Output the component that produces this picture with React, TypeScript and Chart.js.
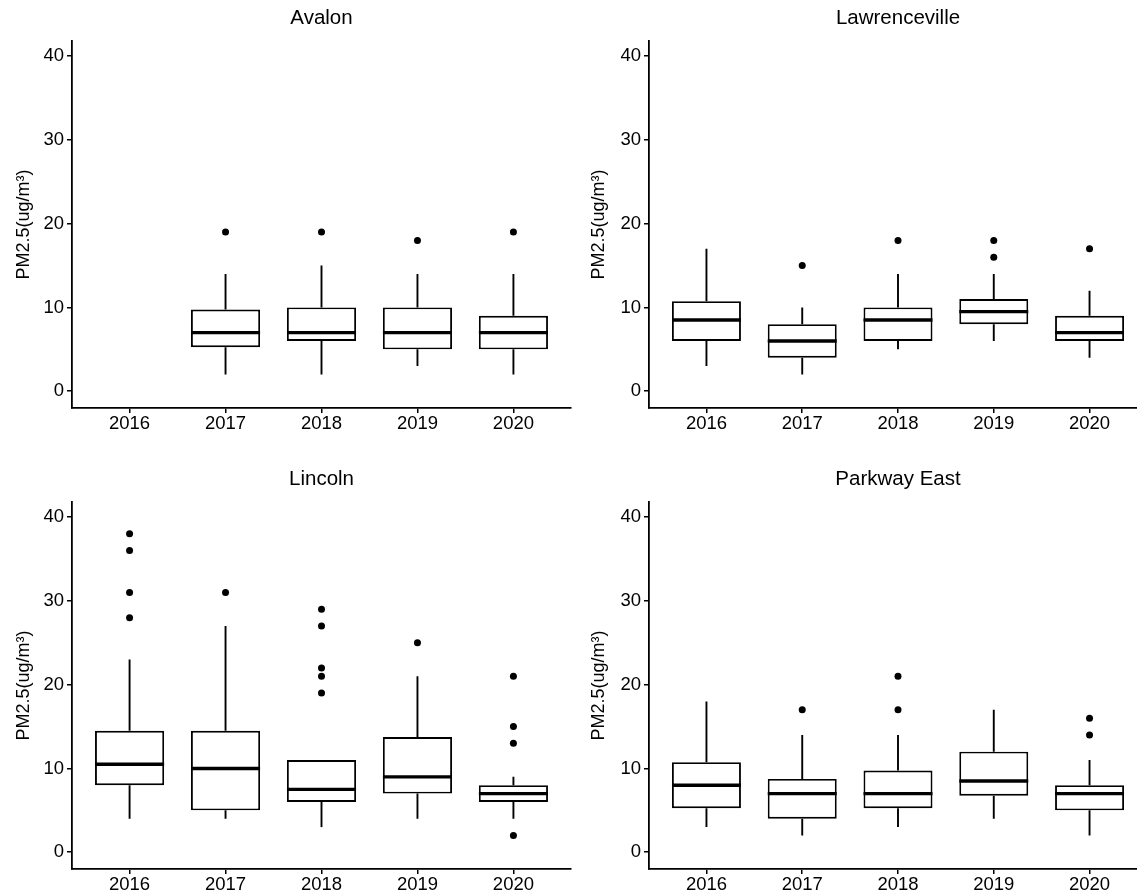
import React, { useEffect, useRef } from "react";
import { Chart, registerables } from "chart.js";
Chart.register(...registerables);

const YEARS = ["2016", "2017", "2018", "2019", "2020"];
const STATIONS = ["Avalon", "Lawrenceville", "Lincoln", "Parkway East"];
const Y_TICKS = [0, 10, 20, 30, 40];
const Y_TITLE = "PM2.5(ug/m³)";

// per station (rows) and year (columns)
const LOWER = [
  [null, 2, 2, 3, 2],
  [3, 2, 5, 6, 4],
  [4, 4, 3, 4, 4],
  [3, 2, 3, 4, 2],
];
const Q1 = [
  [null, 5.25, 6, 5, 5],
  [6, 4, 6, 8, 6],
  [8, 5, 6, 7, 6],
  [5.25, 4, 5.25, 6.75, 5],
];
const MEDIAN = [
  [null, 7, 7, 7, 7],
  [8.5, 6, 8.5, 9.5, 7],
  [10.5, 10, 7.5, 9, 7],
  [8, 7, 7, 8.5, 7],
];
const Q3 = [
  [null, 9.75, 10, 10, 9],
  [10.75, 8, 10, 11, 9],
  [14.5, 14.5, 11, 13.75, 8],
  [10.75, 8.75, 9.75, 12, 8],
];
const UPPER = [
  [null, 14, 15, 14, 14],
  [17, 10, 14, 14, 12],
  [23, 27, 11, 21, 9],
  [18, 14, 14, 17, 11],
];
const OUTLIERS = [
  [[], [19], [19], [18], [19]],
  [[], [15], [18], [18, 16], [17]],
  [[38, 36, 31, 28], [31], [29, 27, 22, 21, 19], [25], [21, 15, 13, 2]],
  [[], [17], [21, 17], [], [16, 14]],
];

const FONT = "'Liberation Sans', Arial, Helvetica, sans-serif";

const PANELS = [
  { left: 0, top: 0, width: 575, yWidth: 72, titlePad: 13 },
  { left: 575, top: 0, width: 576, yWidth: 74, titlePad: 13 },
  { left: 0, top: 461, width: 575, yWidth: 72, titlePad: 13 },
  { left: 575, top: 461, width: 576, yWidth: 74, titlePad: 13 },
];
const PANEL_H = 440;

const boxDecor = {
  id: "boxDecor",
  afterDatasetsDraw(chart: any, _args: any, opts: any) {
    const s = opts.station;
    const meta = chart.getDatasetMeta(0);
    const xs = chart.scales.x;
    const ys = chart.scales.y;
    const ctx = chart.ctx;
    ctx.save();
    ctx.strokeStyle = "#000";
    ctx.lineCap = "butt";
    meta.data.forEach((bar: any, j: number) => {
      const raw = chart.data.datasets[0].data[j];
      const k = raw.x - 1;
      const cx = xs.getPixelForValue(raw.x);
      const half = bar.width / 2;
      ctx.lineWidth = 1.9;
      ctx.beginPath();
      ctx.moveTo(cx, ys.getPixelForValue(Q3[s][k]));
      ctx.lineTo(cx, ys.getPixelForValue(UPPER[s][k]));
      ctx.moveTo(cx, ys.getPixelForValue(Q1[s][k]));
      ctx.lineTo(cx, ys.getPixelForValue(LOWER[s][k]));
      ctx.stroke();
      ctx.lineWidth = 3.4;
      ctx.beginPath();
      const my = ys.getPixelForValue(MEDIAN[s][k]);
      ctx.moveTo(cx - half, my);
      ctx.lineTo(cx + half, my);
      ctx.stroke();
    });
    ctx.restore();
  },
};

function Panel({ index }: { index: number }) {
  const ref = useRef<HTMLCanvasElement | null>(null);
  const p = PANELS[index];
  useEffect(() => {
    const boxes: any[] = [];
    const points: any[] = [];
    YEARS.forEach((_, k) => {
      if (Q1[index][k] !== null) {
        boxes.push({ x: k + 1, y: [Q1[index][k], Q3[index][k]] });
      }
      OUTLIERS[index][k].forEach((v) => points.push({ x: k + 1, y: v }));
    });
    const chart = new Chart(ref.current as HTMLCanvasElement, {
      type: "bar",
      data: {
        datasets: [
          {
            type: "bar",
            data: boxes,
            backgroundColor: "#ffffff",
            borderColor: "#000000",
            borderWidth: 1.9,
            borderSkipped: false,
            barPercentage: 0.72,
            categoryPercentage: 1,
          } as any,
          {
            type: "scatter",
            data: points,
            pointRadius: 3.5,
            pointBackgroundColor: "#000",
            pointBorderWidth: 0,
            showLine: false,
          } as any,
        ],
      },
      plugins: [boxDecor],
      options: {
        responsive: false,
        animation: false,
        events: [],
        layout: { padding: { left: 0, right: 2, top: 0, bottom: 0 } },
        plugins: {
          legend: { display: false },
          tooltip: { enabled: false },
          title: {
            display: true,
            text: STATIONS[index],
            color: "#000",
            font: { family: FONT, size: 20.5, weight: "normal", lineHeight: 1.2 },
            padding: { top: 5.7, bottom: 10.7 },
            fullSize: false,
          },
          boxDecor: { station: index },
        } as any,
        scales: {
          x: {
            type: "linear",
            offset: false,
            min: 0.4,
            max: 5.6,
            afterBuildTicks: (sc: any) => {
              sc.ticks = YEARS.map((_, i) => ({ value: i + 1 }));
            },
            afterFit: (sc: any) => {
              sc.height = 32;
            },
            ticks: {
              includeBounds: false,
              autoSkip: false,
              maxRotation: 0,
              padding: 0,
              color: "#000",
              font: { family: FONT, size: 18.5 },
              callback: (v: any) => YEARS[Math.round(v) - 1],
            },
            grid: {
              offset: false,
              drawOnChartArea: false,
              drawTicks: true,
              tickLength: 5,
              color: "#000",
              lineWidth: 1.5,
            },
            border: { display: true, color: "#000", width: 1.8 },
          },
          y: {
            type: "linear",
            min: -2,
            max: 41.8,
            afterBuildTicks: (sc: any) => {
              sc.ticks = Y_TICKS.map((v) => ({ value: v }));
            },
            afterFit: (sc: any) => {
              sc.width = p.yWidth;
            },
            ticks: {
              autoSkip: false,
              padding: 3,
              color: "#000",
              font: { family: FONT, size: 18.5 },
            },
            grid: {
              drawOnChartArea: false,
              drawTicks: true,
              tickLength: 5,
              color: "#000",
              lineWidth: 1.5,
            },
            border: { display: true, color: "#000", width: 1.8 },
            title: {
              display: true,
              text: Y_TITLE,
              color: "#000",
              font: { family: FONT, size: 18 },
              padding: { top: p.titlePad, bottom: 0 },
            },
          },
        },
      } as any,
    });
    return () => chart.destroy();
  }, [index]);
  return (
    <canvas
      ref={ref}
      width={p.width}
      height={PANEL_H}
      style={{
        position: "absolute",
        left: p.left,
        top: p.top,
        width: p.width,
        height: PANEL_H,
      }}
    />
  );
}

export default function App() {
  return (
    <div
      style={{
        position: "absolute",
        left: 0,
        top: 0,
        width: 1137,
        height: 894,
        overflow: "hidden",
        background: "#fff",
      }}
    >
      {PANELS.map((_, i) => (
        <Panel key={i} index={i} />
      ))}
    </div>
  );
}
